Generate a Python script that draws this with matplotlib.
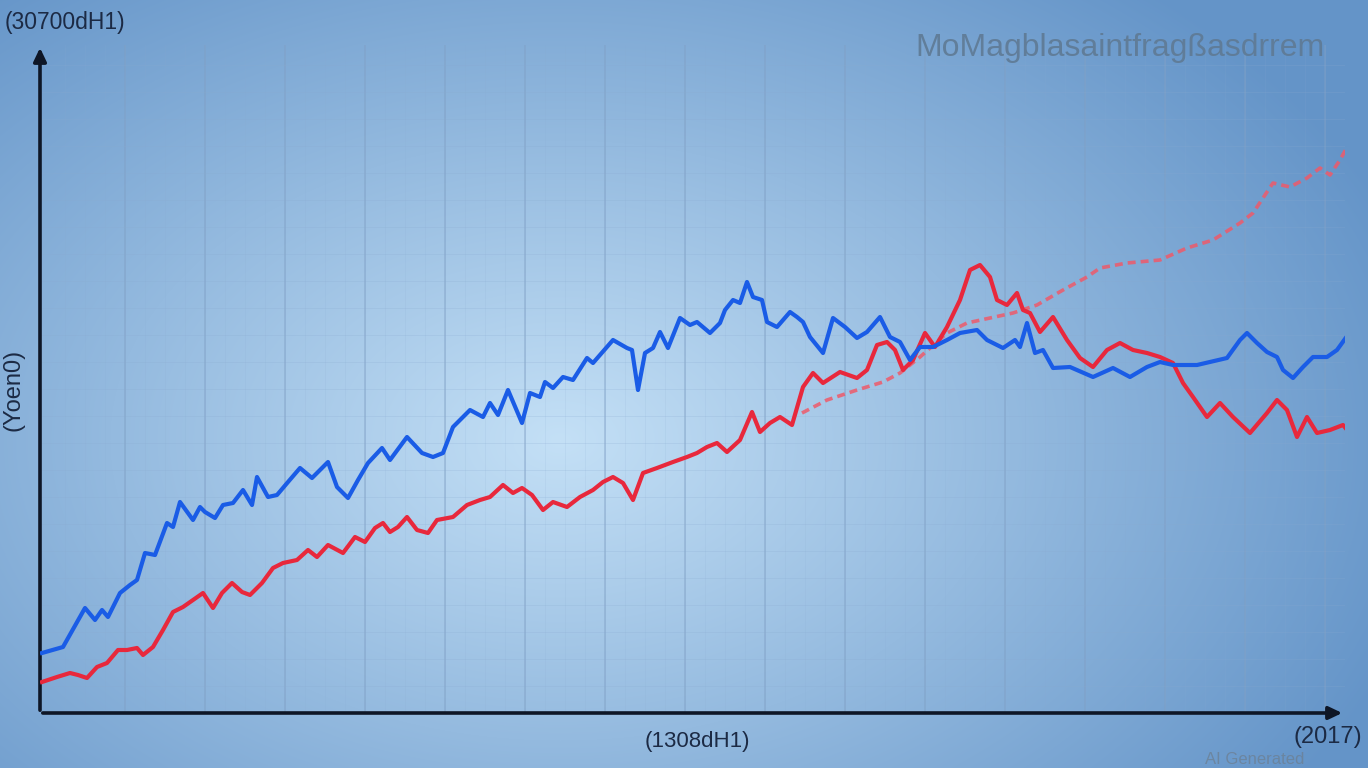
import numpy as np
import matplotlib
matplotlib.use('Agg')
import matplotlib.pyplot as plt

# values (arbitrary units, x: 0..1305, y: 0..668)
blue_x = [2, 23, 45, 55, 62, 68, 80, 90, 97, 105, 115, 127, 133, 140, 153, 160, 165, 175, 183, 193,
          203, 212, 217, 228, 237, 248, 260, 272, 288, 297, 308, 318, 328, 342, 350, 367, 382, 393, 403, 413,
          430, 443, 450, 458, 468, 482, 490, 500, 505, 513, 523, 533, 547, 553, 573, 587, 592, 598, 605, 613,
          620, 628, 640, 650, 657, 670, 680, 685, 693, 700, 707, 713, 722, 727, 737, 750, 757, 763, 770, 783,
          793, 805, 817, 827, 840, 850, 860, 870, 880, 893, 907, 920, 937, 947, 963, 975, 980, 987, 995, 1003,
          1013, 1030, 1053, 1073, 1090, 1107, 1120, 1133, 1157, 1187, 1200, 1207, 1217, 1227, 1237, 1243, 1253, 1263, 1273, 1287,
          1297, 1310]
blue_y = [60, 66, 105, 93, 103, 96, 120, 128, 133, 160, 158, 190, 186, 211, 193, 206, 201, 195, 208, 210,
          223, 208, 236, 216, 218, 231, 245, 235, 251, 226, 215, 233, 250, 265, 253, 276, 260, 256, 260, 286,
          303, 296, 310, 298, 323, 290, 320, 316, 331, 325, 336, 333, 355, 350, 373, 365, 363, 323, 360, 365,
          381, 365, 395, 388, 391, 380, 390, 403, 413, 410, 431, 416, 413, 391, 386, 401, 396, 391, 376, 360,
          395, 386, 375, 381, 396, 376, 371, 353, 366, 366, 373, 380, 383, 373, 365, 373, 366, 390, 360, 363,
          345, 346, 336, 345, 336, 346, 351, 348, 348, 355, 373, 380, 370, 361, 356, 343, 335, 346, 356, 356,
          363, 381]

red_x = [2, 17, 30, 38, 47, 57, 67, 78, 87, 97, 103, 113, 123, 133, 143, 153, 163, 173, 182, 192,
         202, 210, 222, 233, 243, 257, 268, 277, 288, 303, 315, 325, 335, 343, 350, 358, 367, 377, 388, 397,
         413, 427, 440, 450, 463, 473, 482, 492, 503, 513, 527, 540, 553, 563, 573, 583, 593, 603, 617, 633,
         647, 657, 667, 677, 687, 700, 712, 720, 730, 740, 752, 763, 773, 783, 800, 817, 827, 837, 847, 855,
         863, 873, 885, 895, 907, 920, 930, 940, 950, 957, 967, 977, 983, 990, 1000, 1013, 1027, 1040, 1053, 1067,
         1080, 1093, 1107, 1120, 1133, 1143, 1153, 1167, 1180, 1193, 1210, 1227, 1237, 1247, 1257, 1267, 1277, 1290, 1303, 1313]
red_y = [31, 36, 40, 38, 35, 46, 50, 63, 63, 65, 58, 66, 83, 101, 106, 113, 120, 105, 120, 130,
         121, 118, 130, 145, 150, 153, 163, 156, 168, 160, 176, 171, 185, 190, 181, 186, 196, 183, 180, 193,
         196, 208, 213, 216, 228, 220, 225, 218, 203, 211, 206, 216, 223, 231, 236, 230, 213, 240, 245, 251,
         256, 260, 266, 270, 261, 273, 301, 281, 290, 296, 288, 326, 340, 330, 341, 335, 343, 368, 371, 363,
         343, 353, 380, 366, 386, 413, 443, 448, 436, 413, 408, 420, 403, 400, 381, 396, 373, 355, 346, 363,
         370, 363, 360, 356, 350, 330, 316, 296, 310, 296, 280, 300, 313, 303, 276, 296, 280, 283, 288, 276]

proj_x = [762, 787, 817, 843, 860, 880, 907, 927, 950, 973, 997, 1023, 1047, 1060, 1087, 1120, 1147, 1173,
          1200, 1213, 1233, 1250, 1267, 1280, 1290, 1300, 1310]
proj_y = [300, 313, 323, 331, 340, 356, 380, 390, 395, 400, 408, 423, 436, 445, 450, 453, 465, 473,
          490, 500, 530, 526, 535, 545, 538, 553, 571]

W, H = 1368, 768
fig = plt.figure(figsize=(W / 100, H / 100), dpi=100)

# blue background with a soft radial glow
bg = fig.add_axes([0, 0, 1, 1], zorder=-10)
yy, xx = np.mgrid[0:H, 0:W]
d = np.sqrt(((xx - 560) / 900.0) ** 2 + ((yy - 440) / 600.0) ** 2)
d = np.clip(d, 0, 1)
light = np.array([196, 224, 246]) / 255.0
dark = np.array([100, 148, 200]) / 255.0
img = light[None, None, :] * (1 - d[..., None]) + dark[None, None, :] * d[..., None]
bg.imshow(img, aspect='auto', extent=[0, W, H, 0])
bg.axis('off')

ax = fig.add_axes([40 / W, 55 / H, 1305 / W, 668 / H])
ax.set_facecolor('none')
ax.set_xlim(0, 1305)
ax.set_ylim(0, 668)
for s in ax.spines.values():
    s.set_visible(False)
ax.set_xticks([])
ax.set_yticks([])

# grid
for gx in np.arange(85, 1305, 80):
    ax.axvline(gx, color='#7f9fc4', lw=1.2, alpha=0.5, zorder=1)
for gy in np.arange(27, 668, 27):
    ax.axhline(gy, color='#8aaad0', lw=0.7, alpha=0.22, zorder=1)
for gx in np.arange(25, 1305, 20):
    ax.axvline(gx, color='#8aaad0', lw=0.6, alpha=0.16, zorder=1)

ax.plot(proj_x, proj_y, color='#ee5a6a', lw=2.6, ls=(0, (2.2, 1.4)), alpha=0.85, zorder=3)
ax.plot(red_x, red_y, color='#e8283c', lw=3.0, zorder=4, solid_joinstyle='round')
ax.plot(blue_x, blue_y, color='#1a5ce6', lw=3.0, zorder=5, solid_joinstyle='round')

# axis arrows
ax.annotate('', xy=(0, 1.0), xytext=(0, 0), xycoords='axes fraction',
            arrowprops=dict(arrowstyle='-|>,head_width=0.38,head_length=0.8', color='#0e1626', lw=2.6),
            annotation_clip=False)
ax.annotate('', xy=(1.0, 0), xytext=(0, 0), xycoords='axes fraction',
            arrowprops=dict(arrowstyle='-|>,head_width=0.38,head_length=0.8', color='#0e1626', lw=2.6),
            annotation_clip=False)

font = 'Liberation Sans'
fig.text(5 / W, 1 - 22 / H, '(30700dH1)', fontsize=16.5, color='#1c2a44', family=font, va='center', ha='left')
fig.text(1325 / W, 1 - 48 / H, 'MoMagblasaintfragßasdrrem', fontsize=23, color='#5f7a94', family=font,
         va='center', ha='right', alpha=0.9)
fig.text(13 / W, 1 - 390 / H, '(Yoen0)', fontsize=17, color='#1c2a44', family=font, va='center', ha='center',
         rotation=90)
fig.text(697 / W, 1 - 742 / H, '(1308dH1)', fontsize=16, color='#1c2a44', family=font, va='center', ha='center')
fig.text(1205 / W, 1 - 759 / H, 'AI Generated', fontsize=12, color='#6c7f92', family=font, va='center',
         ha='left', alpha=0.75)
fig.text(1362 / W, 1 - 737 / H, '(2017)', fontsize=17, color='#1c2a44', family=font, va='center', ha='right')

fig.savefig('out.png', dpi=100)
